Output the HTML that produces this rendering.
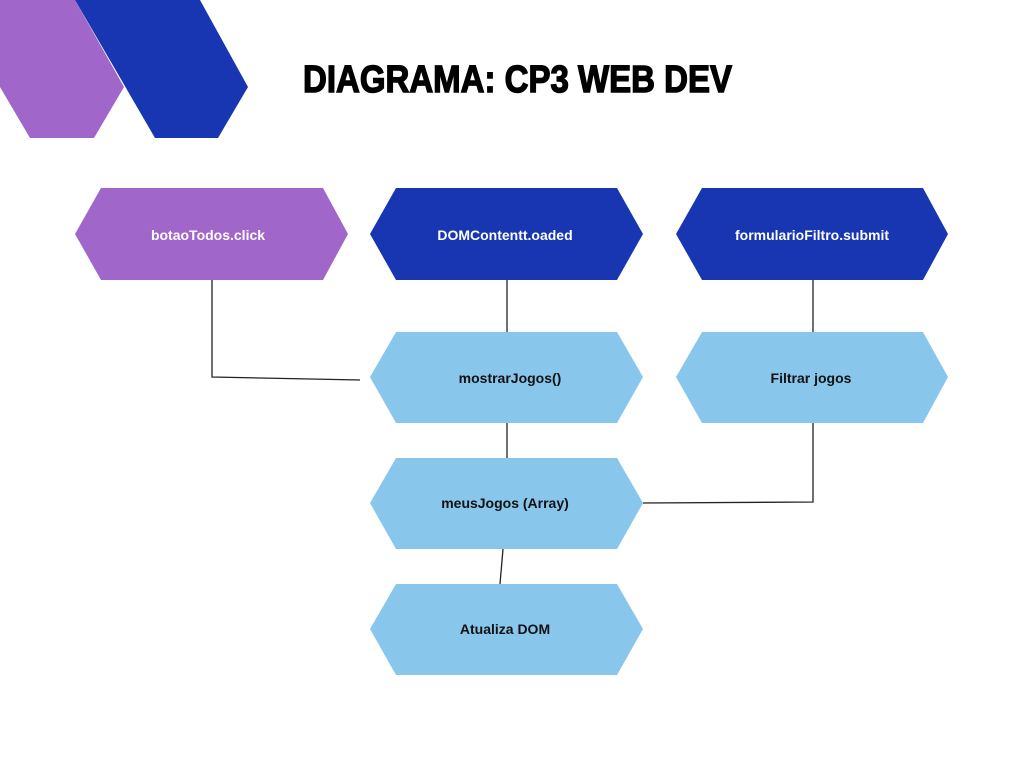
<!DOCTYPE html>
<html><head><meta charset="utf-8"><style>html,body{margin:0;padding:0;background:#fff}svg{display:block}</style></head>
<body>
<svg width="1024" height="768" viewBox="0 0 1024 768" xmlns="http://www.w3.org/2000/svg" font-family="Liberation Sans, sans-serif">
<rect width="1024" height="768" fill="#fff"/>
<polygon points="0,0 75,0 124,87 94,138 30,138 0,87" fill="#a066c9"/>
<polygon points="75,0 200,0 248,87 218,138 155,138" fill="#1835b2"/>
<text x="303" y="92" font-size="38" font-weight="bold" textLength="429" lengthAdjust="spacingAndGlyphs" fill="#000" stroke="#000" stroke-width="1.4">DIAGRAMA: CP3 WEB DEV</text>
<g stroke="#222" stroke-width="1.3" fill="none">
<polyline points="212,280 212,377 360,380"/>
<line x1="507" y1="280" x2="507" y2="335"/>
<line x1="507" y1="423" x2="507" y2="464"/>
<line x1="813" y1="277" x2="813" y2="332"/>
<polyline points="813,423 813,502 643,503"/>
<line x1="503" y1="549" x2="500" y2="584"/>
</g>
<g>
<polygon points="75,234 101,188 323,188 348,234 323,280 101,280" fill="#a066c9"/>
<polygon points="370,234 396,188 617,188 643,234 617,280 396,280" fill="#1835b2"/>
<polygon points="676,234 702,188 923,188 948,234 923,280 702,280" fill="#1835b2"/>
<polygon points="370,377 396,332 617,332 643,377 617,423 396,423" fill="#88c6ec"/>
<polygon points="676,377 702,332 923,332 948,377 923,423 702,423" fill="#88c6ec"/>
<polygon points="370,503 396,458 617,458 643,503 617,549 396,549" fill="#88c6ec"/>
<polygon points="370,629 396,584 617,584 643,629 617,675 396,675" fill="#88c6ec"/>
</g>
<g font-size="14" font-weight="bold" text-anchor="middle">
<text x="208" y="240" fill="#fff">botaoTodos.click</text>
<text x="505" y="240" fill="#fff">DOMContentt.oaded</text>
<text x="812" y="240" fill="#fff">formularioFiltro.submit</text>
<text x="510" y="383" fill="#111">mostrarJogos()</text>
<text x="811" y="383" fill="#111">Filtrar jogos</text>
<text x="505" y="508" fill="#111">meusJogos (Array)</text>
<text x="505" y="634" fill="#111">Atualiza DOM</text>
</g>
</svg>
</body></html>
